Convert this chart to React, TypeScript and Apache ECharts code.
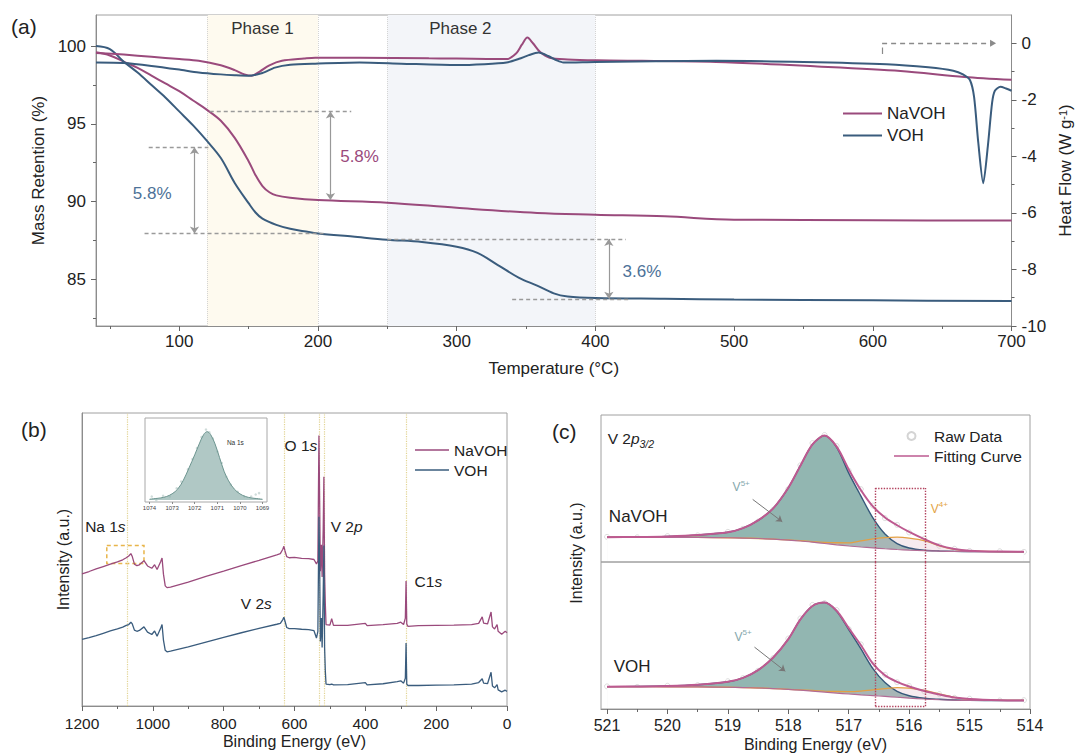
import { useEffect, useRef } from "react";
import * as echarts from "echarts";

const FONT = "'Liberation Sans', Arial, Helvetica, sans-serif";
const C_NA = "#9a4a7c";
const C_VOH = "#3a5c7d";
const C_FIT = "#bd5a90";
const TXT = "#222";
const AX = "#8c8c8c";
const LINE_ICON = "path://M0 0H40V1.8H0Z";

// ===== (a) TGA (mass retention) + DSC (heat flow) =====
const tgaTempNaVOH = [40, 50, 60, 70, 80, 90, 100, 110, 120, 130, 140, 150, 155, 160, 165, 170, 180, 200, 250, 300, 358, 400, 450, 500, 600, 700];
const massNaVOH = [99.6, 99.4, 99.0, 98.6, 98.1, 97.6, 97.1, 96.5, 95.9, 95.2, 94.1, 92.6, 91.7, 91.0, 90.6, 90.4, 90.25, 90.1, 89.93, 89.6, 89.27, 89.16, 89.05, 88.84, 88.8, 88.78];
const tgaTempVOH = [40, 50, 60, 70, 80, 90, 100, 110, 120, 130, 140, 150, 155, 160, 170, 180, 190, 200, 225, 250, 275, 300, 315, 330, 345, 358, 370, 380, 400, 450, 500, 600, 700];
const massVOH = [100.0, 99.8, 99.0, 98.3, 97.5, 96.7, 95.8, 94.9, 93.9, 92.8, 91.2, 89.9, 89.3, 88.9, 88.5, 88.25, 88.1, 87.95, 87.75, 87.55, 87.4, 87.1, 86.7, 85.9, 85.1, 84.6, 84.1, 83.9, 83.8, 83.75, 83.7, 83.65, 83.6];
const hfTempNaVOH = [40, 60, 80, 100, 114, 130, 140, 147, 152, 158, 165, 174, 190, 198, 230, 280, 336, 343, 347, 351, 355, 360, 367, 380, 401, 487, 560, 620, 666, 700];
const hfNaVOH = [-0.34, -0.40, -0.48, -0.56, -0.62, -0.78, -0.95, -1.10, -1.15, -1.00, -0.78, -0.62, -0.54, -0.51, -0.51, -0.53, -0.56, -0.35, -0.05, 0.20, 0.00, -0.30, -0.51, -0.57, -0.60, -0.66, -0.82, -0.98, -1.19, -1.29];
const hfTempVOH = [40, 60, 80, 100, 114, 130, 140, 150, 160, 169, 180, 198, 230, 260, 300, 320, 336, 345, 352, 359, 366, 372, 377, 400, 487, 550, 610, 640, 658, 665, 670, 673, 676, 679.6, 683, 686, 688, 692, 696, 700];
const hfVOH = [-0.68, -0.70, -0.80, -0.93, -1.03, -1.10, -1.13, -1.15, -1.05, -0.86, -0.76, -0.72, -0.68, -0.72, -0.77, -0.74, -0.68, -0.55, -0.42, -0.33, -0.45, -0.60, -0.68, -0.66, -0.62, -0.66, -0.74, -0.85, -0.97, -1.10, -1.30, -1.90, -3.50, -4.95, -3.60, -2.10, -1.68, -1.54, -1.60, -1.68];

const tempTicks = [100, 200, 300, 400, 500, 600, 700];
const tempMinorTicks = [50, 150, 250, 350, 450, 550, 650];
const massTicks = [85, 90, 95, 100];
const massMinorTicks = [82.5, 87.5, 92.5, 97.5];
const heatTicks = [-10, -8, -6, -4, -2, 0];
const heatMinorTicks = [-9, -7, -5, -3, -1];

const phaseNames = ["Phase 1", "Phase 2"];
const phaseRanges = [[120, 200], [250, 400]];
const phaseColors = ["#fefaef", "#f3f5f9"];
const phaseLabelShift = [0, -31];

const lossText = ["5.8%", "5.8%", "3.6%"];
const lossColor = [C_NA, "#4d7298", "#4d7298"];
const lossLabelPos = [[230, 92.9], [80.5, 90.5], [433.6, 85.5]];
const lossArrows = [[209, 95.8, 90.1], [111, 93.5, 87.95], [409.7, 87.6, 83.75]];
const lossGuides = [[122, 224, 95.8], [78, 121, 93.5], [75, 205, 87.95], [250, 422, 87.6], [340, 425, 83.75]];
const heatArrow = [606.7, 686.7, 0];

// ===== (b) XPS survey =====
const surveyEnergy = [1200, 1180, 1160, 1140, 1120, 1100, 1085, 1075, 1068, 1062,
  1058, 1052, 1045, 1038, 1025, 1015, 1003, 995, 988, 978,
  974, 970, 965, 960, 950, 900, 850, 800, 750, 700,
  650, 640, 633, 630, 627, 622, 615, 600, 580, 560,
  545, 538, 534, 531, 529, 527, 524, 522, 519, 517,
  515, 513, 511, 500, 495, 490, 450, 400, 395, 350,
  310, 300, 292, 287, 285, 283, 280, 250, 200, 150,
  100, 80, 70, 66, 55, 45, 41, 35, 28, 25,
  15, 5, 0];
const surveyNaVOH = [45.1, 45.9, 46.8, 47.6, 48.4, 49.2, 49.9, 50.6, 51.2, 52.0,
  51.0, 48.4, 47.9, 48.2, 49.6, 47.8, 47.0, 48.2, 46.6, 49.2,
  50.5, 45.0, 41.0, 40.4, 40.6, 42.3, 44.2, 46.0, 47.9, 49.7,
  51.6, 52.0, 53.5, 54.5, 53.0, 51.0, 50.6, 50.7, 50.4, 50.3,
  50.0, 48.5, 49.5, 92.3, 70.0, 46.0, 55.0, 44.0, 60.0, 78.2,
  45.0, 35.0, 27.8, 27.6, 29.8, 27.5, 27.5, 28.2, 27.4, 27.8,
  28.2, 28.6, 27.8, 30.0, 42.7, 28.0, 27.2, 27.4, 27.5, 27.6,
  27.8, 28.2, 30.4, 28.3, 28.0, 32.1, 27.0, 26.3, 27.8, 25.5,
  24.5, 25.5, 25.0];
const surveyVOH = [22.7, 23.3, 24.0, 24.8, 25.6, 26.3, 26.9, 27.5, 27.8, 28.6,
  28.0, 25.9, 25.5, 25.8, 27.0, 25.2, 24.4, 25.6, 23.8, 26.5,
  27.8, 22.5, 19.0, 18.5, 18.7, 20.2, 21.8, 23.4, 25.0, 26.5,
  27.9, 28.2, 29.5, 30.3, 29.0, 26.8, 26.4, 26.4, 26.2, 26.1,
  25.7, 23.2, 25.5, 64.6, 48.0, 22.0, 30.0, 20.0, 38.0, 54.8,
  20.0, 12.0, 7.5, 7.3, 7.5, 7.2, 7.3, 8.0, 7.2, 7.6,
  8.3, 8.6, 7.8, 9.5, 21.5, 7.5, 7.0, 7.0, 7.1, 7.2,
  7.5, 8.0, 9.3, 7.8, 7.6, 11.5, 6.8, 6.2, 7.3, 5.5,
  4.8, 5.4, 5.0];
const surveyTicks = 200;
const peakLines = [1071, 630, 531, 517, 285];
const naBox = [[1130, 54.8], [1025, 48.6]];
const surveyLabels = ["Na 1{i|s}", "O 1{i|s}", "V 2{i|p}", "C1{i|s}", "V 2{i|s}"];
const surveyLabelPos = [[1134, 61.1], [582, 88.8], [453, 61.1], [222, 42.4], [708, 35.1]];

// inset Na 1s
const insetEnergy = [1074, 1073.75, 1073.5, 1073.25, 1073, 1072.75, 1072.5, 1072.25, 1072, 1071.8, 1071.6, 1071.45, 1071.3, 1071.1, 1070.9, 1070.7, 1070.5, 1070.25, 1070, 1069.75, 1069.5, 1069.25, 1069];
const insetFit = [0.01, 0.02, 0.03, 0.05, 0.09, 0.16, 0.29, 0.47, 0.66, 0.82, 0.96, 1.0, 0.96, 0.82, 0.62, 0.42, 0.28, 0.16, 0.09, 0.05, 0.03, 0.02, 0.01];
const insetRawEnergy = [1073.9, 1073.7, 1073.4, 1073.1, 1072.8, 1072.6, 1072.3, 1072.1, 1071.9, 1071.7, 1071.5, 1071.35, 1071.2, 1071.0, 1070.8, 1070.6, 1070.4, 1070.1, 1069.8, 1069.5, 1069.3, 1069.15];
const insetRaw = [0.05, -0.01, 0.06, 0.05, 0.17, 0.27, 0.45, 0.6, 0.76, 0.92, 1.03, 0.99, 0.9, 0.71, 0.54, 0.34, 0.22, 0.12, 0.05, 0.05, 0.08, 0.1];
const insetTicks = [1069, 1070, 1071, 1072, 1073, 1074];

// ===== (c) V 2p3/2 =====
const v2pEnergy = [521, 520.5, 520, 519.5, 519, 518.75, 518.5, 518.25, 518, 517.8, 517.6, 517.4, 517.2, 517, 516.8, 516.6, 516.4, 516.2, 516, 515.75, 515.5, 515.25, 515, 514.5, 514.1];
const envNaVOH = [16.9, 17.0, 17.4, 18.3, 20.2, 23.0, 28.3, 36.5, 50.5, 65.5, 80.0, 86.0, 78.5, 63.0, 49.0, 37.8, 30.3, 25.0, 20.5, 15.6, 11.3, 8.8, 7.7, 7.1, 7.0];
const bgNaVOH = [16.9, 16.9, 16.8, 16.7, 16.5, 16.3, 16.0, 15.5, 14.9, 14.3, 13.5, 12.6, 11.7, 10.9, 10.2, 9.6, 9.0, 8.5, 8.1, 7.7, 7.4, 7.2, 7.1, 7.0, 7.0];
const v5NaVOH = [16.9, 17.0, 17.4, 18.3, 20.2, 23.0, 28.3, 36.5, 50.5, 65.5, 80.0, 86.0, 78.0, 60.5, 45.0, 30.0, 19.0, 12.5, 9.5, 8.0, 7.5, 7.2, 7.1, 7.0, 7.0];
const v4NaVOH = [16.9, 16.9, 16.8, 16.7, 16.5, 16.3, 16.0, 15.5, 15.0, 14.5, 13.9, 13.4, 13.1, 13.0, 14.3, 15.8, 16.6, 16.9, 16.3, 14.6, 11.0, 8.6, 7.5, 7.0, 7.0];
const rawNaVOH = [17.1, 16.8, 17.6, 18.1, 20.5, 22.6, 27.5, 35.4, 49.6, 65.8, 80.9, 86.4, 78.9, 62.1, 49.6, 38.4, 29.8, 25.3, 20.1, 15.9, 11.0, 9.0, 7.5, 7.3, 6.9];
const envVOH = [15.2, 15.3, 15.6, 16.5, 18.5, 21.2, 26.5, 35.0, 47.5, 61.0, 70.1, 72.4, 66.8, 55.0, 43.5, 30.8, 22.9, 18.5, 15.3, 12.3, 9.9, 7.8, 6.8, 6.0, 5.8];
const bgVOH = [15.2, 15.2, 15.1, 15.0, 14.8, 14.6, 14.3, 13.9, 13.3, 12.8, 12.2, 11.5, 10.8, 10.2, 9.6, 9.1, 8.6, 8.0, 7.4, 6.8, 6.3, 6.0, 5.9, 5.8, 5.8];
const v5VOH = [15.2, 15.3, 15.6, 16.5, 18.5, 21.2, 26.5, 35.0, 47.5, 61.0, 70.1, 72.4, 66.5, 54.0, 41.0, 27.5, 18.0, 12.0, 9.0, 7.3, 6.6, 6.1, 5.9, 5.8, 5.8];
const v4VOH = [15.2, 15.2, 15.1, 15.0, 14.8, 14.6, 14.3, 13.9, 13.4, 13.0, 12.6, 12.2, 11.9, 11.8, 12.2, 13.0, 13.9, 14.5, 14.2, 12.6, 10.2, 7.9, 6.6, 5.9, 5.8];
const rawVOH = [15.4, 15.0, 15.8, 16.2, 18.9, 21.0, 26.0, 34.6, 47.9, 61.6, 70.8, 72.1, 67.3, 54.4, 44.0, 30.2, 23.3, 18.2, 15.6, 12.0, 10.1, 7.6, 7.0, 5.8, 6.0];
const v2pTicks = [514, 515, 516, 517, 518, 519, 520, 521];
const v2pMinorTicks = [514.5, 515.5, 516.5, 517.5, 518.5, 519.5, 520.5];
const v4Box = [516.56, 515.74];

const pairs = (xs: number[], ys: number[]) => xs.map((x, i) => [x, ys[i]]);
const label = (size: number, extra: any = {}) => ({ color: TXT, fontFamily: FONT, fontSize: size, ...extra });
const plain = (v: number) => String(v);

const mp = (coord: number[], text: string, style: any) => ({
  coord,
  symbol: "circle",
  symbolSize: 1,
  itemStyle: { color: "rgba(0,0,0,0)" },
  label: { show: true, position: "inside", formatter: text, fontFamily: FONT, ...style },
});

function xpsSeries(xi: number, yi: number, key: string, env: number[], bg: number[], v5: number[], v4: number[], raw: number[], extra: any) {
  const base = { type: "line", xAxisIndex: xi, yAxisIndex: yi, symbol: "none", smooth: 0.3, silent: true };
  return [
    {
      ...base, name: key + "v5", data: pairs(v2pEnergy, v5),
      lineStyle: { color: "#36587a", width: 1.4 }, areaStyle: { color: "rgb(146,182,177)", opacity: 1, origin: 0.6 },
    },
    {
      ...base, name: key + "v4", data: pairs(v2pEnergy, v4),
      lineStyle: { color: "#e3a044", width: 1.3 }, areaStyle: { color: "rgba(222,184,198,0.4)", origin: 0.6 },
      ...extra,
    },
    {
      ...base, name: key + "bg", data: pairs(v2pEnergy, bg),
      lineStyle: { color: "#b26c95", width: 1.2 }, areaStyle: { color: "#ffffff", opacity: 1, origin: 0.6 },
    },
    {
      type: "scatter", name: "Raw Data", xAxisIndex: xi, yAxisIndex: yi, data: pairs(v2pEnergy, raw),
      symbol: "circle", symbolSize: 5, itemStyle: { color: "#ffffff", borderColor: "#c9c9c9", borderWidth: 0.8 }, silent: true,
    },
    { ...base, name: "Fitting Curve", data: pairs(v2pEnergy, env), lineStyle: { color: C_FIT, width: 2 }, itemStyle: { color: C_FIT } },
  ];
}

function buildOption(): any {
  const axisLineStyle = { lineStyle: { color: AX, width: 1 } };
  const tickStyle = { lineStyle: { color: "#666", width: 1 } };
  const dashed = { color: "#9a9a9a", width: 1.4, type: [4, 3] };

  const lossLines: any[] = [];
  lossGuides.forEach((g) => lossLines.push([{ coord: [g[0], g[2]], lineStyle: dashed }, { coord: [g[1], g[2]] }]));
  lossArrows.forEach((a) => lossLines.push([
    { coord: [a[0], a[1]], symbol: "arrow", symbolSize: 7, lineStyle: { color: "#999", width: 1.2, type: "solid" } },
    { coord: [a[0], a[2]], symbol: "arrow", symbolSize: 7 },
  ]));

  const redBox = { color: "#b2425e", width: 1.4, type: "dotted" };
  const sup = (c: string) => ({ fontSize: 12, color: c, lineHeight: 16, rich: { s: { fontSize: 8, color: c, fontFamily: FONT, verticalAlign: "top", lineHeight: 8 } } });

  const series: any[] = [
    // (a) phase bands
    {
      type: "line", name: "bands", xAxisIndex: 0, yAxisIndex: 0, data: [], silent: true,
      markArea: {
        silent: true,
        data: phaseRanges.map((r, i) => [
          {
            name: phaseNames[i], xAxis: r[0], itemStyle: { color: phaseColors[i] },
            label: { show: true, position: "insideTop", distance: 5, offset: [phaseLabelShift[i], 0], ...label(17, { color: "#333" }) },
          },
          { xAxis: r[1] },
        ]),
      },
      markLine: {
        silent: true, symbol: ["none", "none"], label: { show: false }, z: 1,
        lineStyle: { color: "#d4d4d4", type: "dotted", width: 1 },
        data: phaseRanges.flat().map((v) => ({ xAxis: v })),
      },
    },
    { type: "line", name: "NaVOH", xAxisIndex: 0, yAxisIndex: 0, data: pairs(tgaTempNaVOH, massNaVOH), symbol: "none", smooth: 0.35, lineStyle: { color: C_NA, width: 2 }, itemStyle: { color: C_NA } },
    { type: "line", name: "VOH", xAxisIndex: 0, yAxisIndex: 0, data: pairs(tgaTempVOH, massVOH), symbol: "none", smooth: 0.35, lineStyle: { color: C_VOH, width: 2 }, itemStyle: { color: C_VOH } },
    { type: "line", name: "NaVOH", xAxisIndex: 0, yAxisIndex: 1, data: pairs(hfTempNaVOH, hfNaVOH), symbol: "none", smooth: 0.3, lineStyle: { color: C_NA, width: 2 }, itemStyle: { color: C_NA } },
    { type: "line", name: "VOH", xAxisIndex: 0, yAxisIndex: 1, data: pairs(hfTempVOH, hfVOH), symbol: "none", smooth: 0.25, lineStyle: { color: C_VOH, width: 2 }, itemStyle: { color: C_VOH } },
    {
      type: "line", name: "annot", xAxisIndex: 0, yAxisIndex: 0, data: [], silent: true,
      markLine: { silent: true, symbol: ["none", "none"], label: { show: false }, lineStyle: dashed, data: lossLines },
      markPoint: {
        silent: true,
        data: lossText.map((t, i) => mp(lossLabelPos[i], t, { fontSize: 17, color: lossColor[i] })),
      },
    },
    {
      type: "line", name: "heatArrow", xAxisIndex: 0, yAxisIndex: 1, data: [], silent: true,
      markLine: {
        silent: true, symbol: ["none", "none"], label: { show: false },
        data: [
          [{ coord: [heatArrow[0], heatArrow[2]], lineStyle: { color: "#8a8a8a", width: 1.4, type: [5, 4] } },
            { coord: [heatArrow[1], heatArrow[2]], symbol: "triangle", symbolSize: [7, 6] }],
          [{ coord: [heatArrow[0], -0.15], lineStyle: { color: "#8a8a8a", width: 1.2, type: "solid" } }, { coord: [heatArrow[0], -0.38] }],
        ],
      },
    },

    // (b) survey
    {
      type: "line", name: "NaVOH", xAxisIndex: 2, yAxisIndex: 4, data: pairs(surveyEnergy, surveyNaVOH), symbol: "none",
      lineStyle: { color: C_NA, width: 1.3 }, itemStyle: { color: C_NA },
      markPoint: {
        silent: true,
        data: surveyLabels.map((t, i) => mp(surveyLabelPos[i], t, {
          fontSize: 15.5, color: TXT,
          rich: { i: { fontSize: 15.5, fontStyle: "italic", color: TXT, fontFamily: FONT } },
        })),
      },
    },
    {
      type: "line", name: "VOH", xAxisIndex: 2, yAxisIndex: 4, data: pairs(surveyEnergy, surveyVOH), symbol: "none",
      lineStyle: { color: C_VOH, width: 1.3 }, itemStyle: { color: C_VOH },
      markLine: {
        silent: true, symbol: ["none", "none"], label: { show: false }, z: 1,
        lineStyle: { color: "#e2d493", type: "dotted", width: 1.2 },
        data: peakLines.map((v) => ({ xAxis: v })),
      },
      markArea: {
        silent: true,
        itemStyle: { color: "rgba(0,0,0,0)", borderColor: "#e8b54a", borderWidth: 1.5, borderType: [4, 3] },
        data: [[{ coord: naBox[0] }, { coord: naBox[1] }]],
      },
    },
    {
      type: "line", name: "Na1sFit", xAxisIndex: 3, yAxisIndex: 5, data: pairs(insetEnergy, insetFit), symbol: "none", smooth: 0.35,
      lineStyle: { color: "#6c948f", width: 1 }, areaStyle: { color: "#8fb1ac" }, silent: true,
      markPoint: { silent: true, data: [mp([1070.2, 0.84], "Na 1s", { fontSize: 6.5, color: "#333" })] },
    },
    {
      type: "scatter", name: "Na1sRaw", xAxisIndex: 3, yAxisIndex: 5, data: pairs(insetRawEnergy, insetRaw),
      symbolSize: 2.5, itemStyle: { color: "#c3d3d1" }, silent: true,
    },

    // (c)
    ...xpsSeries(4, 6, "top", envNaVOH, bgNaVOH, v5NaVOH, v4NaVOH, rawNaVOH, {
      markLine: {
        silent: true, symbol: ["none", "none"], label: { show: false }, lineStyle: redBox,
        data: [
          [{ coord: [v4Box[0], 50.4] }, { coord: [v4Box[1], 50.4] }],
          [{ coord: [v4Box[0], 50.4] }, { coord: [v4Box[0], 0] }],
          [{ coord: [v4Box[1], 50.4] }, { coord: [v4Box[1], 0] }],
          [{ coord: [518.59, 42.6], lineStyle: { color: "#777", width: 1, type: "solid" } }, { coord: [518.1, 27.4], symbol: "arrow", symbolSize: 6 }],
        ],
      },
      markPoint: {
        silent: true,
        data: [
          mp([520.99, 84.1], "V 2{i|p}{sub|3/2}", {
            fontSize: 15.5, color: TXT, align: "left", lineHeight: 22,
            rich: {
              i: { fontSize: 15.5, fontStyle: "italic", color: TXT, fontFamily: FONT, lineHeight: 22 },
              sub: { fontSize: 10.5, fontStyle: "italic", color: TXT, fontFamily: FONT, verticalAlign: "bottom", lineHeight: 12 },
            },
          }),
          mp([520.97, 31.0], "NaVOH", { fontSize: 17, color: TXT, align: "left" }),
          mp([518.78, 51.0], "V{s|5+}", sup("#86a8ad")),
          mp([515.5, 36.3], "V{s|4+}", sup("#e3a445")),
        ],
      },
    }),
    ...xpsSeries(5, 7, "bot", envVOH, bgVOH, v5VOH, v4VOH, rawVOH, {
      markLine: {
        silent: true, symbol: ["none", "none"], label: { show: false }, lineStyle: redBox,
        data: [
          [{ coord: [v4Box[0], 100] }, { coord: [v4Box[0], 1.6] }],
          [{ coord: [v4Box[1], 100] }, { coord: [v4Box[1], 1.6] }],
          [{ coord: [v4Box[0], 1.6] }, { coord: [v4Box[1], 1.6] }],
          [{ coord: [518.56, 42.1], lineStyle: { color: "#777", width: 1, type: "solid" } }, { coord: [518.05, 25.7], symbol: "arrow", symbolSize: 6 }],
        ],
      },
      markPoint: {
        silent: true,
        data: [
          mp([520.89, 29.1], "VOH", { fontSize: 17, color: TXT, align: "left" }),
          mp([518.75, 49.1], "V{s|5+}", sup("#86a8ad")),
        ],
      },
    }),
  ];

  const hidden = { show: false };
  const noSplit = { show: false };

  return {
    animation: false,
    backgroundColor: "#ffffff",
    textStyle: { fontFamily: FONT },
    grid: [
      { left: 96, top: 15, width: 921, height: 311, show: true, borderColor: "#a0a0a0", borderWidth: 1 },
      { left: 82, top: 413, width: 425, height: 293, show: true, borderColor: "#a0a0a0", borderWidth: 1 },
      { left: 145, top: 418, width: 122, height: 84, show: true, borderColor: "#a8a8a8", borderWidth: 1 },
      { left: 601, top: 415, width: 429, height: 147, show: true, borderColor: "#a0a0a0", borderWidth: 1 },
      { left: 601, top: 562, width: 429, height: 148, show: true, borderColor: "#a0a0a0", borderWidth: 1 },
    ],
    legend: [
      {
        data: [{ name: "NaVOH", icon: LINE_ICON }, { name: "VOH", icon: LINE_ICON }],
        left: 838, top: 100, orient: "vertical", itemWidth: 39, itemHeight: 12, itemGap: 5,
        selectedMode: false, textStyle: label(17),
      },
      {
        data: [{ name: "NaVOH", icon: LINE_ICON }, { name: "VOH", icon: LINE_ICON }],
        left: 410, top: 437, orient: "vertical", itemWidth: 34, itemHeight: 12, itemGap: 4,
        selectedMode: false, textStyle: label(15.5),
      },
      {
        data: [{ name: "Raw Data", icon: "circle" }, { name: "Fitting Curve", icon: LINE_ICON }],
        left: 889, top: 423, orient: "vertical", itemWidth: 35, itemHeight: 8, itemGap: 4,
        selectedMode: false, textStyle: label(15.5),
      },
    ],
    xAxis: [
      {
        gridIndex: 0, type: "value", min: 40, max: 700, position: "bottom",
        axisLine: { onZero: false, ...axisLineStyle },
        axisTick: { customValues: tempTicks, length: 5, ...tickStyle },
        axisLabel: { customValues: tempTicks, margin: 7, ...label(17) },
        splitLine: noSplit,
        name: "Temperature (°C)", nameLocation: "middle", nameGap: 34, nameTextStyle: label(17),
      },
      {
        gridIndex: 0, type: "value", min: 40, max: 700, position: "bottom",
        axisLine: { show: false, onZero: false }, axisLabel: hidden, splitLine: noSplit,
        axisTick: { customValues: tempMinorTicks, length: 3, ...tickStyle },
      },
      {
        gridIndex: 1, type: "value", min: 0, max: 1200, interval: surveyTicks, inverse: true, position: "bottom",
        axisLine: { onZero: false, ...axisLineStyle },
        axisTick: { length: 5, ...tickStyle },
        minorTick: { show: true, splitNumber: 2, length: 3, ...tickStyle },
        axisLabel: { margin: 9, formatter: plain, ...label(15.5) },
        splitLine: noSplit, minorSplitLine: noSplit,
        name: "Binding Energy (eV)", nameLocation: "middle", nameGap: 27, nameTextStyle: label(16),
      },
      {
        gridIndex: 2, type: "value", min: 1068.8, max: 1074.2, inverse: true, position: "bottom",
        axisLine: { onZero: false, show: false },
        axisTick: { customValues: insetTicks, length: 2, lineStyle: { color: "#888" } },
        axisLabel: { customValues: insetTicks, margin: 3, formatter: plain, ...label(6, { color: "#444" }) },
        splitLine: noSplit,
      },
      {
        gridIndex: 3, type: "value", min: 514, max: 521.1, inverse: true, position: "bottom", show: false,
        axisLine: { onZero: false }, splitLine: noSplit,
      },
      {
        gridIndex: 4, type: "value", min: 514, max: 521.1, inverse: true, position: "bottom",
        axisLine: { onZero: false, ...axisLineStyle },
        axisTick: { customValues: v2pTicks, length: 5, ...tickStyle },
        axisLabel: { customValues: v2pTicks, margin: 8, formatter: plain, ...label(16) },
        splitLine: noSplit,
        name: "Binding Energy (eV)", nameLocation: "middle", nameGap: 27, nameTextStyle: label(16),
      },
      {
        gridIndex: 4, type: "value", min: 514, max: 521.1, inverse: true, position: "bottom",
        axisLine: { show: false, onZero: false }, axisLabel: hidden, splitLine: noSplit,
        axisTick: { customValues: v2pMinorTicks, length: 3, ...tickStyle },
      },
    ],
    yAxis: [
      {
        gridIndex: 0, type: "value", min: 82, max: 102, position: "left",
        axisLine: { show: true, onZero: false, ...axisLineStyle },
        axisTick: { show: true, customValues: massTicks, length: 5, ...tickStyle },
        axisLabel: { customValues: massTicks, margin: 10, ...label(17) },
        splitLine: noSplit,
        name: "Mass Retention (%)", nameLocation: "middle", nameGap: 45, nameTextStyle: label(17),
      },
      {
        gridIndex: 0, type: "value", min: -10, max: 1, position: "right",
        axisLine: { show: true, onZero: false, ...axisLineStyle },
        axisTick: { show: true, customValues: heatTicks, length: 5, ...tickStyle },
        axisLabel: { customValues: heatTicks, margin: 10, ...label(17) },
        splitLine: noSplit,
        name: "Heat Flow (W g{sup|-1})", nameLocation: "middle", nameGap: 44, nameRotate: 90,
        nameTextStyle: { ...label(17), rich: { sup: { fontSize: 11, fontFamily: FONT, color: TXT, verticalAlign: "top", lineHeight: 10 } } },
      },
      {
        gridIndex: 0, type: "value", min: 82, max: 102, position: "left",
        axisLine: { show: false, onZero: false }, axisLabel: hidden, splitLine: noSplit,
        axisTick: { show: true, customValues: massMinorTicks, length: 3, ...tickStyle },
      },
      {
        gridIndex: 0, type: "value", min: -10, max: 1, position: "right",
        axisLine: { show: false, onZero: false }, axisLabel: hidden, splitLine: noSplit,
        axisTick: { show: true, customValues: heatMinorTicks, length: 3, ...tickStyle },
      },
      {
        gridIndex: 1, type: "value", min: 0, max: 100, position: "left",
        axisLine: { show: true, onZero: false, ...axisLineStyle }, axisTick: hidden, axisLabel: hidden, splitLine: noSplit,
        name: "Intensity (a.u.)", nameLocation: "middle", nameGap: 11, nameTextStyle: label(16),
      },
      { gridIndex: 2, type: "value", min: -0.03, max: 1.2, show: false, splitLine: noSplit },
      { gridIndex: 3, type: "value", min: 0, max: 100, show: false, splitLine: noSplit },
      { gridIndex: 4, type: "value", min: 0, max: 100, show: false, splitLine: noSplit },
    ],
    graphic: [
      { type: "text", x: 11, y: 26, style: { text: "(a)", font: `21px ${FONT}`, fill: TXT, verticalAlign: "middle", textVerticalAlign: "middle" } },
      { type: "text", x: 21, y: 429, style: { text: "(b)", font: `21px ${FONT}`, fill: TXT, verticalAlign: "middle", textVerticalAlign: "middle" } },
      { type: "text", x: 552, y: 431, style: { text: "(c)", font: `21px ${FONT}`, fill: TXT, verticalAlign: "middle", textVerticalAlign: "middle" } },
      {
        type: "text", x: 576, y: 553, rotation: Math.PI / 2,
        style: { text: "Intensity (a.u.)", font: `16px ${FONT}`, fill: TXT, align: "center", textAlign: "center", verticalAlign: "middle", textVerticalAlign: "middle" },
      },
    ],
    series,
  };
}

export default function App() {
  const ref = useRef<HTMLDivElement>(null);
  useEffect(() => {
    const chart = echarts.init(ref.current!, null, { renderer: "svg" });
    chart.setOption(buildOption());
    return () => chart.dispose();
  }, []);
  return <div ref={ref} style={{ position: "absolute", left: 0, top: 0, width: 1082, height: 753 }} />;
}
